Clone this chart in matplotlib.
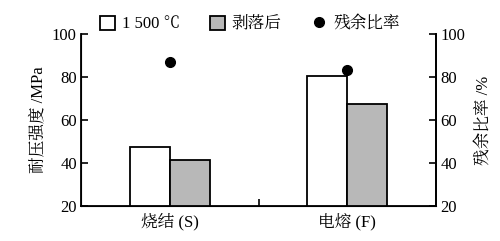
import matplotlib
matplotlib.use("Agg")
import matplotlib.pyplot as plt
from matplotlib.patches import Patch
from matplotlib.lines import Line2D

plt.rcParams['font.family'] = ['Liberation Serif', 'Noto Serif CJK SC', 'Noto Sans CJK SC', 'DejaVu Sans']

categories = ['烧结 (S)', '电熔 (F)']
strength_1500 = [47.5, 80.5]
strength_spalled = [41.5, 67.5]
residual_ratio = [86.8, 83.3]
series_names = ['1 500 ℃', '剥落后', '残余比率']
yticks = [20, 40, 60, 80, 100]

fig = plt.figure(figsize=(5.0, 2.41), dpi=100)
ax = fig.add_axes([0.162, 0.145, 0.710, 0.714])
x = [0.5, 1.5]
w = 0.225
ax.bar([v - w / 2 for v in x], strength_1500, width=w, bottom=0,
       color='white', edgecolor='black', linewidth=1.3, zorder=2)
ax.bar([v + w / 2 for v in x], strength_spalled, width=w, bottom=0,
       color='#b8b8b8', edgecolor='black', linewidth=1.3, zorder=2)
ax.set_xlim(0, 2)
ax.set_ylim(20, 100)
ax.set_yticks(yticks)
ax.set_xticks(x)
ax.set_xticklabels(categories, fontsize=12)
ax.tick_params(axis='x', length=0, pad=5)
ax.set_xticks([1.0], minor=True)
ax.tick_params(axis='x', which='minor', direction='in', length=5, width=1.2)
ax.tick_params(axis='y', direction='in', length=5, width=1.2, labelsize=12, pad=3)
ax.spines['top'].set_visible(False)
for s in ['left', 'bottom', 'right']:
    ax.spines[s].set_linewidth(1.3)
ax.set_ylabel('耐压强度 /MPa', fontsize=12, labelpad=4)

ax2 = ax.twinx()
ax2.set_ylim(20, 100)
ax2.set_yticks(yticks)
ax2.plot(x, residual_ratio, 'o', color='black', markersize=7, linestyle='none', zorder=3)
ax2.tick_params(axis='y', direction='in', length=5, width=1.2, labelsize=12, pad=3)
ax2.spines['top'].set_visible(False)
ax2.spines['right'].set_linewidth(1.3)
ax2.set_ylabel('残余比率 /%', fontsize=12, labelpad=8)

handles = [Patch(facecolor='white', edgecolor='black', linewidth=1.3),
           Patch(facecolor='#b8b8b8', edgecolor='black', linewidth=1.3),
           Line2D([], [], marker='o', color='black', linestyle='none', markersize=7)]
fig.legend(handles, series_names, loc='center', bbox_to_anchor=(0.5, 0.9), ncol=3,
           frameon=False, fontsize=12, handlelength=0.9, handleheight=0.9,
           handletextpad=0.4, columnspacing=1.8)

fig.savefig('out.png', dpi=100)
